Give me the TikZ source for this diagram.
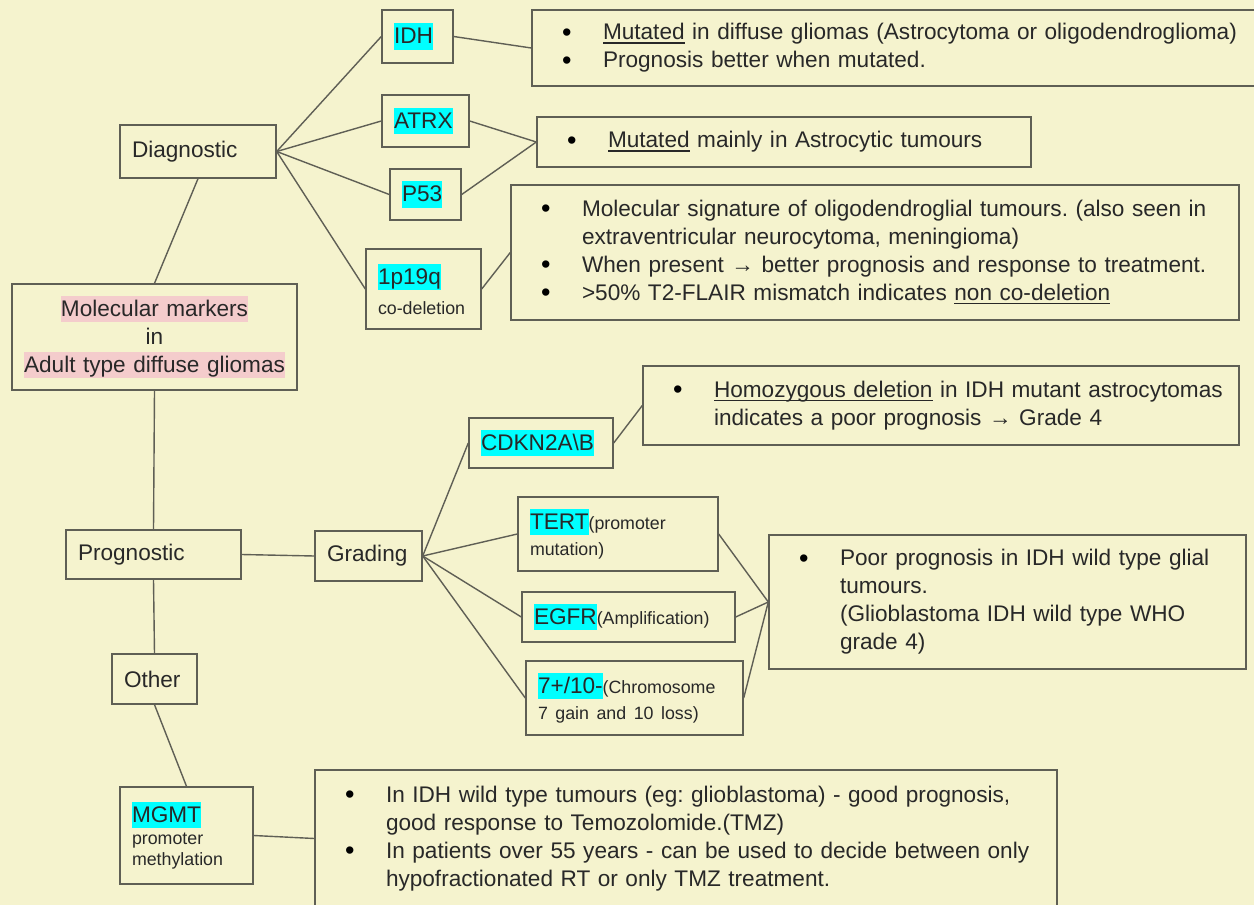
\documentclass[tikz,border=0pt]{standalone}
\usepackage{fontspec}
\setmainfont{Liberation Sans}
\definecolor{paper}{RGB}{245,243,206}
\definecolor{edge}{RGB}{95,95,85}
\definecolor{ink}{RGB}{40,40,40}
\definecolor{hlcyan}{RGB}{0,255,255}
\definecolor{hlpink}{RGB}{244,204,204}
\newcommand\hl[1]{{\setlength{\fboxsep}{0pt}\colorbox{hlcyan}{\vrule width 0pt height 0.92em depth 0.26em\relax #1}}}
\newcommand\hlp[1]{{\setlength{\fboxsep}{0pt}\colorbox{hlpink}{\vrule width 0pt height 0.92em depth 0.26em\relax #1}}}
\newcommand\sm{\fontsize{8.9}{10.5}\selectfont}
\newcommand\undl[1]{\setbox0\hbox{#1}\rlap{\vrule height -1.4pt depth 2.1pt width \wd0}\box0{}}
\newcommand\bul{\makebox[20.5pt][l]{\raisebox{-0.7pt}{\color{black}\fontsize{13.5}{14}\selectfont\textbullet}}}
\begin{document}
\begin{tikzpicture}[x=0.5pt,y=-0.5pt,
  box/.style={draw=edge,line width=0.7pt,inner xsep=6pt,inner ysep=0pt,align=left,text=ink,font={\fontsize{11.3}{13.5}\selectfont\frenchspacing}},
  note/.style={draw=edge,line width=0.7pt,inner xsep=15pt,inner ysep=0pt,align=left,text=ink,font={\fontsize{11.3}{14}\selectfont\frenchspacing}},
  link/.style={draw=edge,line width=0.7pt}]
\useasboundingbox (0,0) rectangle (1254,905);
\fill[paper] (0,0) rectangle (1254,905);
\node[box,align=center,text width=130.5pt,minimum height=53pt,font={\fontsize{11.3}{14}\selectfont}] (mm) at (154.5,337) {\hlp{Molecular markers}\\in\\\hlp{Adult type diffuse gliomas}};
\node[box,text width=66pt,minimum height=26.5pt] (diag) at (198,151.5) {Diagnostic};
\node[box,text width=23.5pt,minimum height=26.5pt] (idh) at (417.5,36.5) {\hl{IDH}};
\node[box,text width=31.5pt,minimum height=26pt] (atrx) at (425.5,121) {\hl{ATRX}};
\node[box,text width=23.5pt,minimum height=25.5pt] (p53) at (425.5,194.5) {\hl{P53}};
\node[box,text width=45.5pt,minimum height=40pt] (codel) at (423.5,289) {\hl{1p19q}\\[1.5pt]\sm co-deletion};
\node[box,text width=75.5pt,minimum height=24.5pt] (prog) at (153.5,554.5) {Prognostic};
\node[box,text width=41.5pt,minimum height=25pt] (grad) at (368.5,556) {Grading};
\node[box,text width=60pt,minimum height=25pt] (cdkn) at (541,443) {\hl{CDKN2A\textbackslash B}};
\node[box,text width=88pt,minimum height=37pt] (tert) at (618,534) {\hl{TERT}{\sm(promoter}\\[-0.5pt]\sm mutation)};
\node[box,text width=94.5pt,minimum height=25pt] (egfr) at (628.5,617) {\hl{EGFR}{\sm(Amplification)}};
\node[box,text width=96.5pt,minimum height=37pt] (chrom) at (634.5,698) {\hl{7+/10-}{\sm(Chromosome}\\[-0.5pt]\sm 7 gain and 10 loss)};
\node[box,text width=30.5pt,minimum height=25pt] (other) at (154.5,679) {Other};
\node[box,text width=54.5pt,minimum height=48.5pt] (mgmt) at (186.5,835.5) {\hl{MGMT}\\[0.5pt]\sm promoter\\[-3pt]methylation};
\node[note,text width=335pt,minimum height=38pt] (idhnote) at (897,48) {\begin{tabular}{@{}l@{}l@{}}
\bul & \undl{Mutated} in diffuse gliomas (Astrocytoma or oligodendroglioma)\\
\bul & Prognosis better when mutated.\end{tabular}};
\node[note,text width=217pt,minimum height=25pt] (atrxnote) at (784,142) {\begin{tabular}{@{}l@{}l@{}}
\bul & \undl{Mutated} mainly in Astrocytic tumours\end{tabular}};
\node[note,text width=334pt,minimum height=67.5pt] (codelnote) at (875,252.5) {\begin{tabular}{@{}l@{}l@{}}
\bul & Molecular signature of oligodendroglial tumours. (also seen in\\
 & extraventricular neurocytoma, meningioma)\\
\bul & When present → better prognosis and response to treatment.\\
\bul & >50\% T2-FLAIR mismatch indicates \undl{non co-deletion}\end{tabular}};
\node[note,text width=268pt,minimum height=39.5pt] (cdknnote) at (941,405.5) {\begin{tabular}{@{}l@{}l@{}}
\bul & \undl{Homozygous deletion} in IDH mutant astrocytomas\\
 & indicates a poor prognosis → Grade 4\end{tabular}};
\node[note,text width=208.5pt,minimum height=67pt] (poornote) at (1007.5,602) {\begin{tabular}{@{}l@{}l@{}}
\bul & Poor prognosis in IDH wild type glial\\
 & tumours.\\
 & (Glioblastoma IDH wild type WHO\\
 & grade 4)\end{tabular}};
\node[note,text width=341pt,minimum height=68.5pt] (mgmtnote) at (686,838.5) {\begin{tabular}{@{}l@{}l@{}}
\bul & In IDH wild type tumours (eg: glioblastoma) - good prognosis,\\
 & good response to Temozolomide.(TMZ)\\
\bul & In patients over 55 years - can be used to decide between only\\
 & hypofractionated RT or only TMZ treatment.\end{tabular}};
\draw[link] (diag.south) -- (mm.north);
\foreach \n in {idh,atrx,p53,codel} \draw[link] (diag.east) -- (\n.west);
\draw[link] (idh.east) -- (idhnote.west);
\draw[link] (atrx.east) -- (atrxnote.west);
\draw[link] (p53.east) -- (atrxnote.west);
\draw[link] (codel.east) -- (codelnote.west);
\draw[link] (mm.south) -- (prog.north);
\draw[link] (prog.east) -- (grad.west);
\foreach \n in {cdkn,tert,egfr,chrom} \draw[link] (grad.east) -- (\n.west);
\draw[link] (cdkn.east) -- (cdknnote.west);
\foreach \n in {tert,egfr,chrom} \draw[link] (\n.east) -- (poornote.west);
\draw[link] (prog.south) -- (other.north);
\draw[link] (other.south) -- (mgmt.north);
\draw[link] (mgmt.east) -- (mgmtnote.west);
\end{tikzpicture}
\end{document}
